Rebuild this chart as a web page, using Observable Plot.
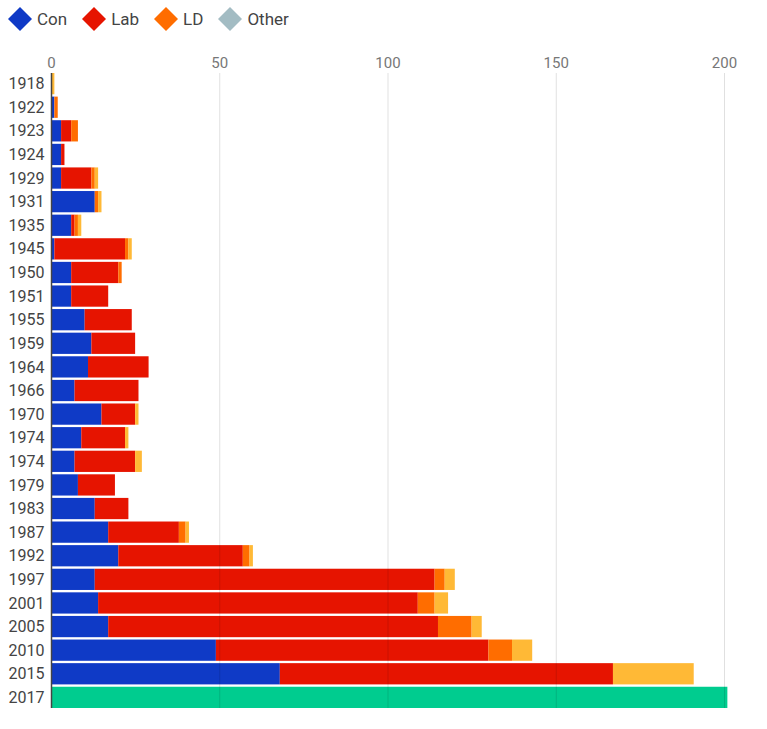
<!DOCTYPE html>
<html>
<head>
<meta charset="utf-8">
<script src="https://cdn.jsdelivr.net/npm/d3@7"></script>
<script src="https://cdn.jsdelivr.net/npm/@observablehq/plot@0.6"></script>
<style>
  html, body { margin: 0; padding: 0; background: #fff; }
  body { width: 767px; height: 729px; overflow: hidden; font-family: Roboto, "DejaVu Sans", sans-serif; }
  #legend { height: 38px; display: flex; align-items: center; padding-left: 8px; box-sizing: border-box; }
  .item { display: flex; align-items: center; margin-right: 15px; font-size: 17px; color: #444; }
  .item svg { margin-right: 5px; flex-shrink: 0; }
</style>
</head>
<body>
<div id="legend"></div>
<div id="chart"></div>
<script>
// Women MPs elected at each general election, by party
const elections = ["1918","1922","1923","1924","1929","1931","1935","1945","1950","1951","1955","1959","1964","1966","1970","1974 Feb","1974 Oct","1979","1983","1987","1992","1997","2001","2005","2010","2015"];
const con   = [0, 1, 3, 3, 3, 13, 6, 1, 6, 6, 10, 12, 11, 7, 15, 9, 7, 8, 13, 17, 20, 13, 14, 17, 49, 68];
const lab   = [0, 0, 3, 1, 9, 0, 1, 21, 14, 11, 14, 13, 18, 19, 10, 13, 18, 11, 10, 21, 37, 101, 95, 98, 81, 99];
const ld    = [0, 1, 2, 0, 1, 1, 1, 1, 1, 0, 0, 0, 0, 0, 0, 0, 0, 0, 0, 2, 2, 3, 5, 10, 7, 0];
const other = [1, 0, 0, 0, 1, 1, 1, 1, 0, 0, 0, 0, 0, 0, 1, 1, 2, 0, 0, 1, 1, 3, 4, 3, 6, 24];

// 2017 is shown as a single total
const latestElection = "2017";
const latestTotal = 201;

const parties = ["Con", "Lab", "LD", "Other"];
const barColors = ["#0f3ac6", "#e61400", "#ff6d00", "#ffb936"];
const legendColors = ["#0f3ac6", "#e61400", "#ff6d00", "#a3bcc3"];
const latestColor = "#00cc8f";
const xTicks = [0, 50, 100, 150, 200];

const seriesByParty = [con, lab, ld, other];
const rows = [];
elections.forEach((e, i) => {
  parties.forEach((p, j) => rows.push({election: e, party: p, seats: seriesByParty[j][i]}));
});
const latest = [{election: latestElection, seats: latestTotal}];

// Legend
const legend = document.getElementById("legend");
parties.forEach((p, j) => {
  const item = document.createElement("div");
  item.className = "item";
  item.innerHTML = `<svg width="24" height="24" viewBox="0 0 24 24"><path d="M12 0 L24 12 L12 24 L0 12 Z" fill="${legendColors[j]}"/></svg><span>${p}</span>`;
  legend.appendChild(item);
});

const chart = Plot.plot({
  width: 767,
  height: 691,
  marginTop: 35,
  marginBottom: 21,
  marginLeft: 51,
  marginRight: 43,
  style: {fontFamily: "Roboto, 'DejaVu Sans', sans-serif", background: "#fff"},
  x: {domain: [0, 200]},
  y: {domain: [...elections, latestElection], paddingInner: 0.1, paddingOuter: 0, round: false},
  color: {domain: parties, range: barColors},
  marks: [
    Plot.barX(rows, {y: "election", x: "seats", fill: "party", order: null}),
    Plot.barX(latest, {y: "election", x: "seats", fill: latestColor}),
    Plot.gridX(xTicks.filter(d => d > 0), {stroke: "#000", strokeOpacity: 0.12, strokeWidth: 1}),
    Plot.ruleX([0], {stroke: "#444", strokeWidth: 1.5}),
    Plot.axisX(xTicks, {anchor: "top", tickSize: 0, tickPadding: 6, fontSize: 15, fill: "#777", label: null}),
    Plot.axisY({tickSize: 0, tickPadding: 7, fontSize: 16, fill: "#444", label: null, tickFormat: d => d.slice(0, 4)})
  ]
});
document.getElementById("chart").appendChild(chart);
</script>
</body>
</html>
